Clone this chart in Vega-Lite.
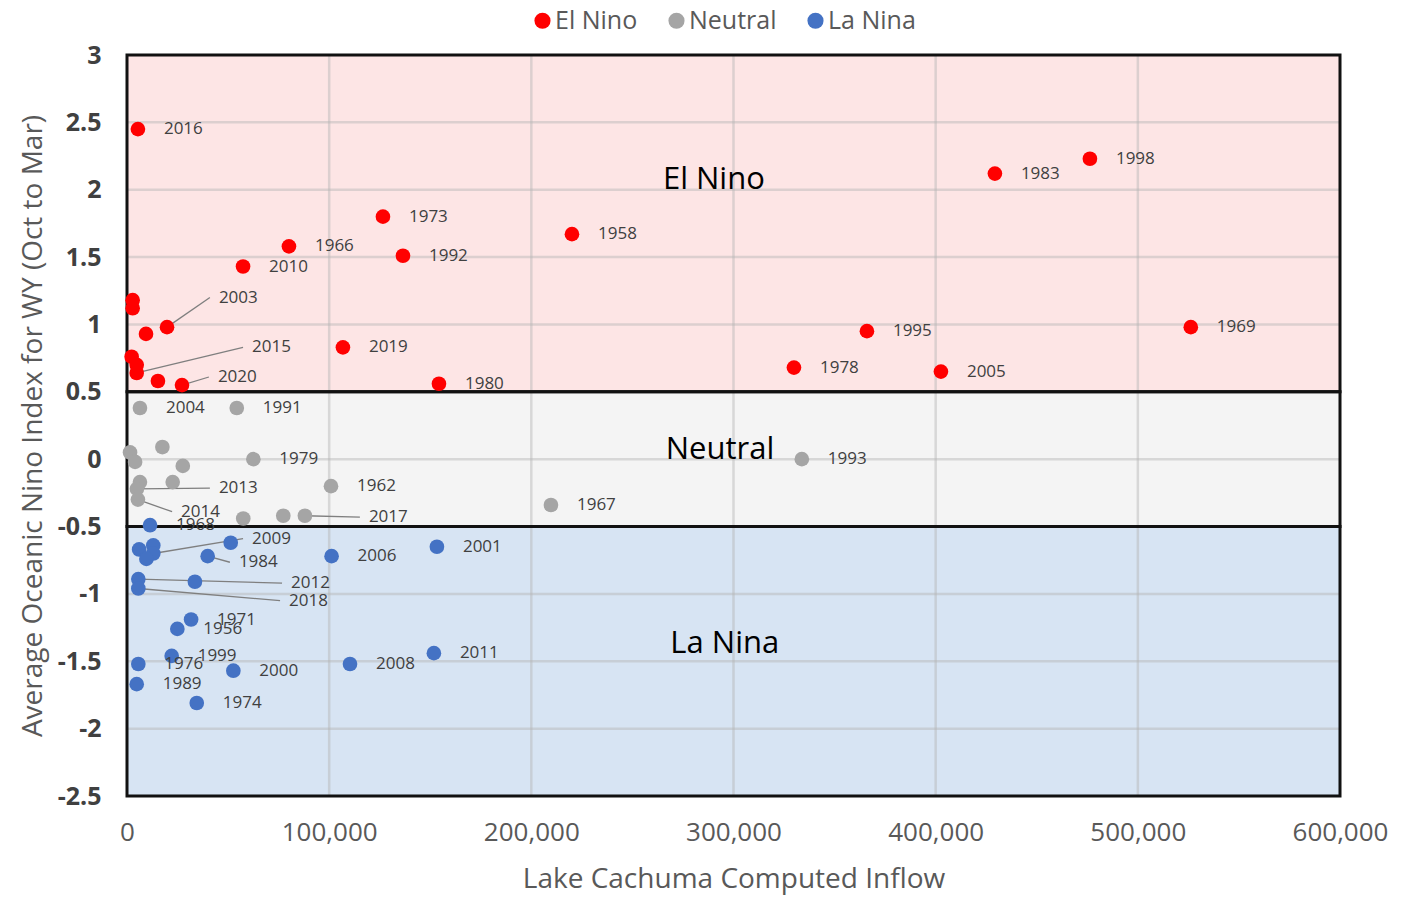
{
  "$schema": "https://vega.github.io/schema/vega-lite/v6.json",
  "width": 1213,
  "height": 741,
  "autosize": {"type": "none"},
  "padding": {"left": 127, "top": 55, "right": 71, "bottom": 103},
  "background": "white",
  "config": {
    "view": {"stroke": null},
    "font": "Open Sans"
  },
  "datasets": {
    "bands": [
      {"band": "El Nino", "lo": 0.5, "hi": 3},
      {"band": "Neutral", "lo": -0.5, "hi": 0.5},
      {"band": "La Nina", "lo": -2.5, "hi": -0.5}
    ],
    "gx": [{"v": 100000}, {"v": 200000}, {"v": 300000}, {"v": 400000}, {"v": 500000}],
    "gy": [{"v": -2}, {"v": -1.5}, {"v": -1}, {"v": -0.5}, {"v": 0}, {"v": 0.5}, {"v": 1}, {"v": 1.5}, {"v": 2}, {"v": 2.5}],
    "regions": [
      {"label": "El Nino", "x": 290300, "y": 2.07},
      {"label": "Neutral", "x": 293300, "y": 0.07},
      {"label": "La Nina", "x": 295700, "y": -1.37}
    ],
    "pts": [
      {"year": "2016", "cat": "El Nino", "x": 5400, "y": 2.45},
      {"year": "1998", "cat": "El Nino", "x": 476300, "y": 2.23},
      {"year": "1983", "cat": "El Nino", "x": 429300, "y": 2.12},
      {"year": "1973", "cat": "El Nino", "x": 126600, "y": 1.80},
      {"year": "1958", "cat": "El Nino", "x": 220100, "y": 1.67},
      {"year": "1966", "cat": "El Nino", "x": 80100, "y": 1.58},
      {"year": "1992", "cat": "El Nino", "x": 136500, "y": 1.51},
      {"year": "2010", "cat": "El Nino", "x": 57400, "y": 1.43},
      {"year": "", "cat": "El Nino", "x": 2800, "y": 1.18},
      {"year": "", "cat": "El Nino", "x": 2800, "y": 1.12},
      {"year": "2003", "cat": "El Nino", "x": 19800, "y": 0.98, "lx": 41000, "ly": 1.20},
      {"year": "", "cat": "El Nino", "x": 9400, "y": 0.93},
      {"year": "1995", "cat": "El Nino", "x": 366000, "y": 0.95},
      {"year": "1969", "cat": "El Nino", "x": 526200, "y": 0.98},
      {"year": "2019", "cat": "El Nino", "x": 106800, "y": 0.83},
      {"year": "", "cat": "El Nino", "x": 2300, "y": 0.76},
      {"year": "", "cat": "El Nino", "x": 4800, "y": 0.70},
      {"year": "2015", "cat": "El Nino", "x": 4800, "y": 0.64, "lx": 57400, "ly": 0.83},
      {"year": "1978", "cat": "El Nino", "x": 329900, "y": 0.68},
      {"year": "2005", "cat": "El Nino", "x": 402600, "y": 0.65},
      {"year": "", "cat": "El Nino", "x": 15300, "y": 0.58},
      {"year": "2020", "cat": "El Nino", "x": 27200, "y": 0.55, "lx": 40500, "ly": 0.61},
      {"year": "1980", "cat": "El Nino", "x": 154300, "y": 0.56},
      {"year": "2004", "cat": "Neutral", "x": 6400, "y": 0.38},
      {"year": "1991", "cat": "Neutral", "x": 54300, "y": 0.38},
      {"year": "", "cat": "Neutral", "x": 1500, "y": 0.05},
      {"year": "", "cat": "Neutral", "x": 17500, "y": 0.09},
      {"year": "", "cat": "Neutral", "x": 4000, "y": -0.02},
      {"year": "", "cat": "Neutral", "x": 27600, "y": -0.05},
      {"year": "1979", "cat": "Neutral", "x": 62500, "y": 0.0},
      {"year": "", "cat": "Neutral", "x": 6400, "y": -0.17},
      {"year": "", "cat": "Neutral", "x": 22600, "y": -0.17},
      {"year": "2013", "cat": "Neutral", "x": 4900, "y": -0.22, "lx": 41000, "ly": -0.215},
      {"year": "1962", "cat": "Neutral", "x": 100900, "y": -0.20},
      {"year": "2014", "cat": "Neutral", "x": 5400, "y": -0.30, "lx": 22300, "ly": -0.39},
      {"year": "", "cat": "Neutral", "x": 57500, "y": -0.44},
      {"year": "", "cat": "Neutral", "x": 77300, "y": -0.42},
      {"year": "2017", "cat": "Neutral", "x": 88000, "y": -0.42, "lx": 115200, "ly": -0.43},
      {"year": "1993", "cat": "Neutral", "x": 333800, "y": 0.0},
      {"year": "1967", "cat": "Neutral", "x": 209700, "y": -0.34},
      {"year": "1968", "cat": "La Nina", "x": 11400, "y": -0.49},
      {"year": "", "cat": "La Nina", "x": 6000, "y": -0.67},
      {"year": "", "cat": "La Nina", "x": 13000, "y": -0.64},
      {"year": "2009", "cat": "La Nina", "x": 13000, "y": -0.70, "lx": 57400, "ly": -0.59},
      {"year": "", "cat": "La Nina", "x": 9600, "y": -0.74},
      {"year": "", "cat": "La Nina", "x": 51300, "y": -0.62},
      {"year": "1984", "cat": "La Nina", "x": 39900, "y": -0.72, "lx": 50900, "ly": -0.765},
      {"year": "2006", "cat": "La Nina", "x": 101200, "y": -0.72},
      {"year": "2001", "cat": "La Nina", "x": 153300, "y": -0.65},
      {"year": "2012", "cat": "La Nina", "x": 5600, "y": -0.89, "lx": 76700, "ly": -0.92},
      {"year": "2018", "cat": "La Nina", "x": 5600, "y": -0.96, "lx": 75700, "ly": -1.05},
      {"year": "", "cat": "La Nina", "x": 33600, "y": -0.91},
      {"year": "1971", "cat": "La Nina", "x": 31700, "y": -1.19},
      {"year": "1956", "cat": "La Nina", "x": 24900, "y": -1.26},
      {"year": "1999", "cat": "La Nina", "x": 22100, "y": -1.46},
      {"year": "1976", "cat": "La Nina", "x": 5600, "y": -1.52},
      {"year": "1989", "cat": "La Nina", "x": 4800, "y": -1.67},
      {"year": "2000", "cat": "La Nina", "x": 52600, "y": -1.57},
      {"year": "1974", "cat": "La Nina", "x": 34500, "y": -1.81},
      {"year": "2008", "cat": "La Nina", "x": 110300, "y": -1.52},
      {"year": "2011", "cat": "La Nina", "x": 151800, "y": -1.44}
    ]
  },
  "layer": [
    {
      "data": {"name": "bands"},
      "transform": [{"filter": "datum.band == 'El Nino'"}],
      "mark": {"type": "rect", "fill": "#fde5e5"},
      "encoding": {
        "x": {"datum": 0, "type": "quantitative"},
        "x2": {"datum": 600000},
        "y": {"field": "lo", "type": "quantitative"},
        "y2": {"field": "hi"}
      }
    },
    {
      "data": {"name": "bands"},
      "transform": [{"filter": "datum.band == 'Neutral'"}],
      "mark": {"type": "rect", "fill": "#f4f4f4"},
      "encoding": {
        "x": {"datum": 0, "type": "quantitative"},
        "x2": {"datum": 600000},
        "y": {"field": "lo", "type": "quantitative"},
        "y2": {"field": "hi"}
      }
    },
    {
      "data": {"name": "bands"},
      "transform": [{"filter": "datum.band == 'La Nina'"}],
      "mark": {"type": "rect", "fill": "#d7e4f3"},
      "encoding": {
        "x": {"datum": 0, "type": "quantitative"},
        "x2": {"datum": 600000},
        "y": {"field": "lo", "type": "quantitative"},
        "y2": {"field": "hi"}
      }
    },
    {
      "data": {"name": "gx"},
      "mark": {"type": "rule", "color": "#b4b4b4", "opacity": 0.45, "strokeWidth": 2.5},
      "encoding": {"x": {"field": "v", "type": "quantitative"}}
    },
    {
      "data": {"name": "gy"},
      "mark": {"type": "rule", "color": "#b4b4b4", "opacity": 0.45, "strokeWidth": 2.5},
      "encoding": {"y": {"field": "v", "type": "quantitative"}}
    },
    {
      "data": {"name": "bands"},
      "mark": {"type": "rect", "fill": null, "fillOpacity": 0, "stroke": "#111111", "strokeWidth": 3},
      "encoding": {
        "x": {"datum": 0, "type": "quantitative"},
        "x2": {"datum": 600000},
        "y": {"field": "lo", "type": "quantitative"},
        "y2": {"field": "hi"}
      }
    },
    {
      "data": {"name": "pts"},
      "transform": [{"filter": "isValid(datum.lx)"}],
      "mark": {"type": "rule", "color": "#7f7f7f", "strokeWidth": 1.3},
      "encoding": {
        "x": {"field": "x", "type": "quantitative"},
        "y": {"field": "y", "type": "quantitative"},
        "x2": {"field": "lx"},
        "y2": {"field": "ly"}
      }
    },
    {
      "data": {"name": "pts"},
      "mark": {"type": "circle", "size": 215, "opacity": 1},
      "encoding": {
        "x": {
          "field": "x", "type": "quantitative",
          "scale": {"domain": [0, 600000], "nice": false, "zero": false},
          "axis": {
            "values": [0, 100000, 200000, 300000, 400000, 500000, 600000],
            "format": ",d",
            "grid": false, "domain": false, "ticks": false, "labelFlush": false,
            "labelFont": "Open Sans", "labelFontSize": 26, "labelColor": "#595959", "labelPadding": 23,
            "title": "Lake Cachuma Computed Inflow",
            "titleFont": "Open Sans", "titleFontSize": 28, "titleFontWeight": "normal", "titleColor": "#595959", "titlePadding": 20
          }
        },
        "y": {
          "field": "y", "type": "quantitative",
          "scale": {"domain": [-2.5, 3], "nice": false, "zero": false},
          "axis": {
            "values": [-2.5, -2, -1.5, -1, -0.5, 0, 0.5, 1, 1.5, 2, 2.5, 3],
            "labelExpr": "'' + datum.value",
            "grid": false, "domain": false, "ticks": false, "labelFlush": false,
            "labelFont": "Open Sans", "labelFontSize": 25, "labelFontWeight": "bold", "labelColor": "#404040", "labelPadding": 26,
            "title": "Average Oceanic Nino Index for WY (Oct to Mar)",
            "titleFont": "Open Sans", "titleFontSize": 28, "titleFontWeight": "normal", "titleColor": "#595959", "titlePadding": 10
          }
        },
        "color": {
          "field": "cat", "type": "nominal",
          "scale": {"domain": ["El Nino", "Neutral", "La Nina"], "range": ["#ff0000", "#a5a5a5", "#4472c4"]},
          "legend": {
            "title": null,
            "orient": "none",
            "legendX": 403,
            "legendY": -47,
            "direction": "horizontal",
            "symbolType": "circle",
            "symbolSize": 260,
            "symbolOpacity": 1,
            "labelFont": "Open Sans",
            "labelFontSize": 25,
            "labelColor": "#595959",
            "labelOffset": 0,
            "columnPadding": 26,
            "padding": 0
          }
        }
      }
    },
    {
      "data": {"name": "pts"},
      "transform": [{"filter": "datum.year != '' && !isValid(datum.lx)"}],
      "mark": {"type": "text", "align": "left", "baseline": "middle", "dx": 26, "font": "Open Sans", "fontSize": 17, "color": "#404040"},
      "encoding": {
        "x": {"field": "x", "type": "quantitative"},
        "y": {"field": "y", "type": "quantitative"},
        "text": {"field": "year"}
      }
    },
    {
      "data": {"name": "pts"},
      "transform": [{"filter": "isValid(datum.lx)"}],
      "mark": {"type": "text", "align": "left", "baseline": "middle", "dx": 9, "font": "Open Sans", "fontSize": 17, "color": "#404040"},
      "encoding": {
        "x": {"field": "lx", "type": "quantitative"},
        "y": {"field": "ly", "type": "quantitative"},
        "text": {"field": "year"}
      }
    },
    {
      "data": {"name": "regions"},
      "mark": {"type": "text", "align": "center", "baseline": "middle", "font": "Open Sans", "fontSize": 31, "color": "#000000"},
      "encoding": {
        "x": {"field": "x", "type": "quantitative"},
        "y": {"field": "y", "type": "quantitative"},
        "text": {"field": "label"}
      }
    }
  ]
}
